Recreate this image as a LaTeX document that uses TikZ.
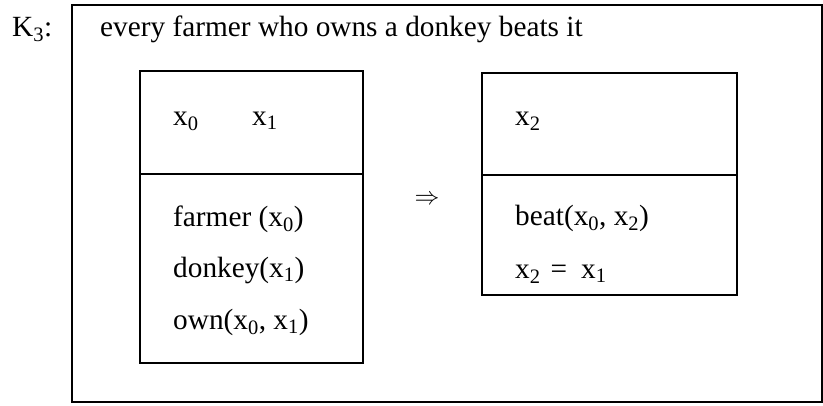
\documentclass[tikz,border=0pt]{standalone}
\usepackage{fontspec}
\setmainfont{Liberation Serif}
\usetikzlibrary{positioning}
\newcommand{\xs}[1]{x\textsubscript{#1}}

\begin{document}
\begin{tikzpicture}[x=1pt, y=-1pt,
    every node/.style={font=\fontsize{29.3}{35}\selectfont},
    frame/.style={draw, line width=2pt, inner sep=0pt},
    txt/.style={anchor=base west, inner sep=0pt}
  ]
    \useasboundingbox (0,0) rectangle (823,405);
    % outer box and title
    \node[frame, minimum width=750pt, minimum height=397pt] (outer) at (447,203.5) {};
    \node[txt] (kname) at (12,36) {K\textsubscript{3}:};
    \node[txt] (title) at (100,36) {every farmer who owns a donkey beats it};
    % left sub-box
    \node[frame, minimum width=223pt, minimum height=103pt] (lunv) at (251.5,122.5) {};
    \node[frame, minimum width=223pt, minimum height=189pt] (lcnd) at (251.5,268.5) {};
    \node[txt] (rx0) at (173,125) {\xs{0}};
    \node[txt] (rx1) at (252,125) {\xs{1}};
    \node[txt] (farmer) at (173,226) {farmer (\xs{0})};
    \node[txt] (donkey) at (173,277) {donkey(\xs{1})};
    \node[txt] (own)    at (173,329) {own(\xs{0}, \xs{1})};
    % implication
    \node (impl) at (427,200) {\fontsize{27}{30}\selectfont$\Rightarrow$};
    % right sub-box
    \node[frame, minimum width=255pt, minimum height=102pt] (runv) at (609.5,124) {};
    \node[frame, minimum width=255pt, minimum height=120pt] (rcnd) at (609.5,235) {};
    \node[txt] (rx2) at (515,125) {\xs{2}};
    \node[txt] (beat) at (515,225) {beat(\xs{0}, \xs{2})};
    \node[txt] (eq)   at (515,278) {\xs{2}\hspace{10pt}=\hspace{14pt}\xs{1}};
  \end{tikzpicture}
\end{document}
